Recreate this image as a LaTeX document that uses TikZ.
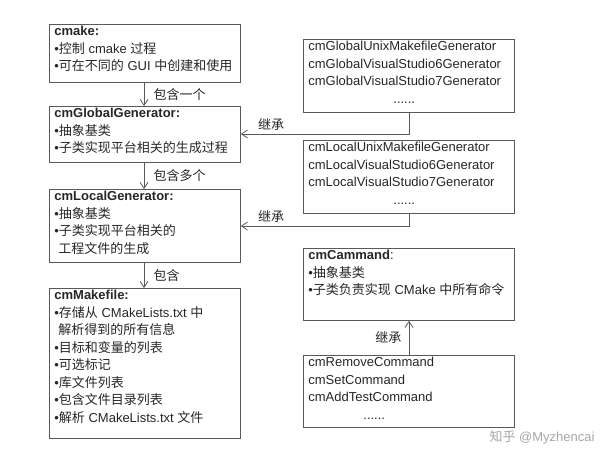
\documentclass[tikz,border=0pt]{standalone}
\usepackage{fontspec}
\setmainfont{Liberation Sans}
\newfontfamily\cjk{Noto Sans CJK SC}
\usetikzlibrary{arrows.meta, positioning}
\newcommand{\zh}[1]{{\cjk #1}}
\newcommand{\bul}{\textbullet}
\tikzset{
  box/.style={rectangle, draw=black!65, line width=0.8pt, anchor=north west, inner sep=0pt, font=\fontsize{13}{17.5}\selectfont, text=black!85},
  arrow/.style={draw=black!65, line width=0.8pt, -{Straight Barb[length=6pt, width=8pt]}},
  lbl/.style={font=\fontsize{13}{15}\selectfont\cjk, text=black!85}
}
\newcommand{\boxtext}[3]{\parbox[t][#2pt][t]{#1pt}{\vspace{2pt}\raggedright\leftskip=5pt #3}}
\begin{document}
\begin{tikzpicture}[x=1pt, y=-1pt]
    \useasboundingbox (0,0) rectangle (600,463);
    % Left column
    \node (cmake) [box] at (49,24) {\boxtext{191}{58}{\textbf{cmake:}\\\bul\zh{控制} cmake \zh{过程}\\\bul\zh{可在不同的} GUI \zh{中创建和使用}}};
    \node (global) [box] at (49,106) {\boxtext{191}{56}{\textbf{cmGlobalGenerator:}\\\bul\zh{抽象基类}\\\bul\zh{子类实现平台相关的生成过程}}};
    \node (local) [box] at (49,189) {\boxtext{191}{73}{\textbf{cmLocalGenerator:}\\\bul\zh{抽象基类}\\\bul\zh{子类实现平台相关的}\\\hspace*{4pt}\zh{工程文件的生成}}};
    \node (makefile) [box] at (49,288) {\boxtext{191}{150}{\textbf{cmMakefile:}\\\bul\zh{存储从} CMakeLists.txt \zh{中}\\\hspace*{4pt}\zh{解析得到的所有信息}\\\bul\zh{目标和变量的列表}\\\bul\zh{可选标记}\\\bul\zh{库文件列表}\\\bul\zh{包含文件目录列表}\\\bul\zh{解析} CMakeLists.txt \zh{文件}}};
    % Right column
    \node (globalsub) [box] at (303,39) {\boxtext{211}{73}{cmGlobalUnixMakefileGenerator\\cmGlobalVisualStudio6Generator\\cmGlobalVisualStudio7Generator\\\hspace*{85pt}......}};
    \node (localsub) [box] at (303,140) {\boxtext{211}{73}{cmLocalUnixMakefileGenerator\\cmLocalVisualStudio6Generator\\cmLocalVisualStudio7Generator\\\hspace*{85pt}......}};
    \node (command) [box] at (303,248) {\boxtext{211}{72}{\textbf{cmCammand}:\\\bul\zh{抽象基类}\\\bul\zh{子类负责实现} CMake \zh{中所有命令}}};
    \node (commandsub) [box] at (303,355) {\boxtext{211}{72}{cmRemoveCommand\\cmSetCommand\\cmAddTestCommand\\\hspace*{55pt}......}};
    % Contains
    \draw [arrow] (cmake.south -| 144,0) -- node[lbl, right=6pt] {包含一个} (global.north -| 144,0);
    \draw [arrow] (global.south -| 144,0) -- node[lbl, right=6pt] {包含多个} (local.north -| 144,0);
    \draw [arrow] (local.south -| 144,0) -- node[lbl, right=6pt] {包含} (makefile.north -| 144,0);
    % Inheritance
    \draw [arrow] (globalsub.south -| 409,0) |- node[lbl, pos=0.91, above] {继承} (global.east |- 0,134);
    \draw [arrow] (localsub.south -| 409,0) |- node[lbl, pos=0.91, above] {继承} (local.east |- 0,226);
    \draw [arrow] (commandsub.north -| 409,0) -- node[lbl, left=4pt] {继承} (command.south -| 409,0);
    % Watermark
    \node (mark) [font=\fontsize{13}{15}\selectfont, text=black!35, anchor=east] at (598,437) {\zh{知乎} @Myzhencai};
\end{tikzpicture}
\end{document}
